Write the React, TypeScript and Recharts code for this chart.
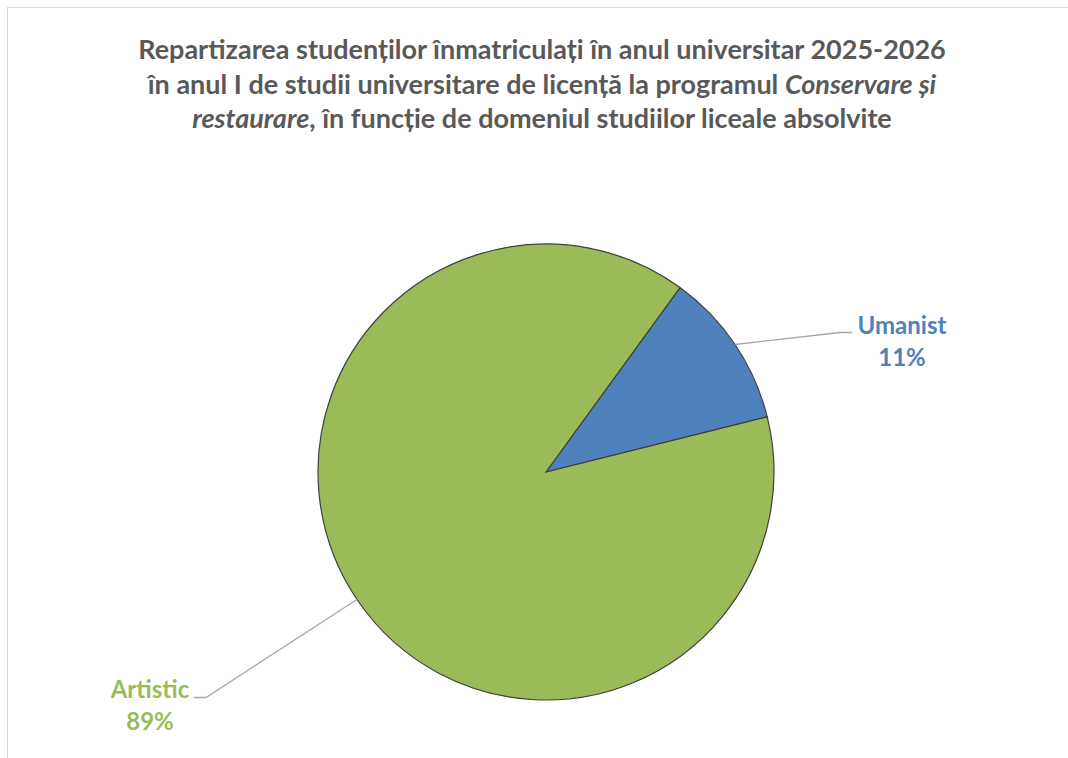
import React from 'react';
import { PieChart, Pie, Cell } from 'recharts';

const categories = ['Umanist', 'Artistic'];
const studentCounts = [4, 32];
const sliceColors = ['#4f81bd', '#9bbb59'];

const titleLines = [
  'Repartizarea studenților înmatriculați în anul universitar 2025-2026',
  'în anul I de studii universitare de licență la programul',
];

const data = categories.map((name, i) => ({ name, value: studentCounts[i] }));

// where each label sits relative to the slice edge point (Excel puts them by hand)
const labelLayout: Record<string, { dx: number; dy: number; tail: number; textDx: number }> = {
  Umanist: { dx: 105, dy: -12, tail: 12, textDx: 50 },
  Artistic: { dx: -151, dy: 98, tail: -12, textDx: -44 },
};

const RAD = Math.PI / 180;
const FONT = "Lato, 'Open Sans', sans-serif";

const renderLabel = (props: any) => {
  const { cx, cy, midAngle, outerRadius, name, percent, index } = props;
  const lay = labelLayout[name];
  const ex = cx + outerRadius * Math.cos(-midAngle * RAD);
  const ey = cy + outerRadius * Math.sin(-midAngle * RAD);
  const bx = ex + lay.dx;
  const by = ey + lay.dy;
  const tx = bx + lay.tail;
  const color = sliceColors[index];
  return (
    <g>
      <polyline
        points={`${ex},${ey} ${bx},${by} ${tx},${by}`}
        fill="none"
        stroke="#a6a6a6"
        strokeWidth={1.3}
      />
      <text x={tx + lay.textDx} y={by + 1} textAnchor="middle" fill={color}
        fontSize={24} fontWeight={700} fontFamily={FONT}>
        {name}
      </text>
      <text x={tx + lay.textDx} y={by + 33} textAnchor="middle" fill={color}
        fontSize={24} fontWeight={700} fontFamily={FONT}>
        {`${Math.round(percent * 100)}%`}
      </text>
    </g>
  );
};

export default function App() {
  return (
    <div style={{ position: 'absolute', left: 0, top: 0, width: 1068, height: 758, background: '#fff', overflow: 'hidden' }}>
      <div
        style={{
          position: 'absolute',
          left: 7,
          top: 7,
          width: 1100,
          height: 800,
          borderTop: '1.5px solid #d9d9d9',
          borderLeft: '1.5px solid #d9d9d9',
        }}
      />
      <div
        style={{
          position: 'absolute',
          left: 0,
          top: 32,
          width: 1084,
          textAlign: 'center',
          fontFamily: FONT,
          fontWeight: 700,
          fontSize: 27,
          lineHeight: '34.5px',
          color: '#595959',
        }}
      >
        <div>{titleLines[0]}</div>
        <div>
          {titleLines[1]} <i>Conservare și</i>
        </div>
        <div>
          <i>restaurare</i>, în funcție de domeniul studiilor liceale absolvite
        </div>
      </div>
      <div style={{ position: 'absolute', left: 0, top: 0 }}>
        <PieChart width={1068} height={758}>
          <Pie
            data={data}
            dataKey="value"
            nameKey="name"
            cx={541}
            cy={467}
            outerRadius={228}
            startAngle={54}
            endAngle={-306}
            stroke="#404040"
            strokeWidth={1.2}
            label={renderLabel}
            labelLine={false}
            isAnimationActive={false}
          >
            {data.map((d, i) => (
              <Cell key={d.name} fill={sliceColors[i]} />
            ))}
          </Pie>
        </PieChart>
      </div>
    </div>
  );
}
